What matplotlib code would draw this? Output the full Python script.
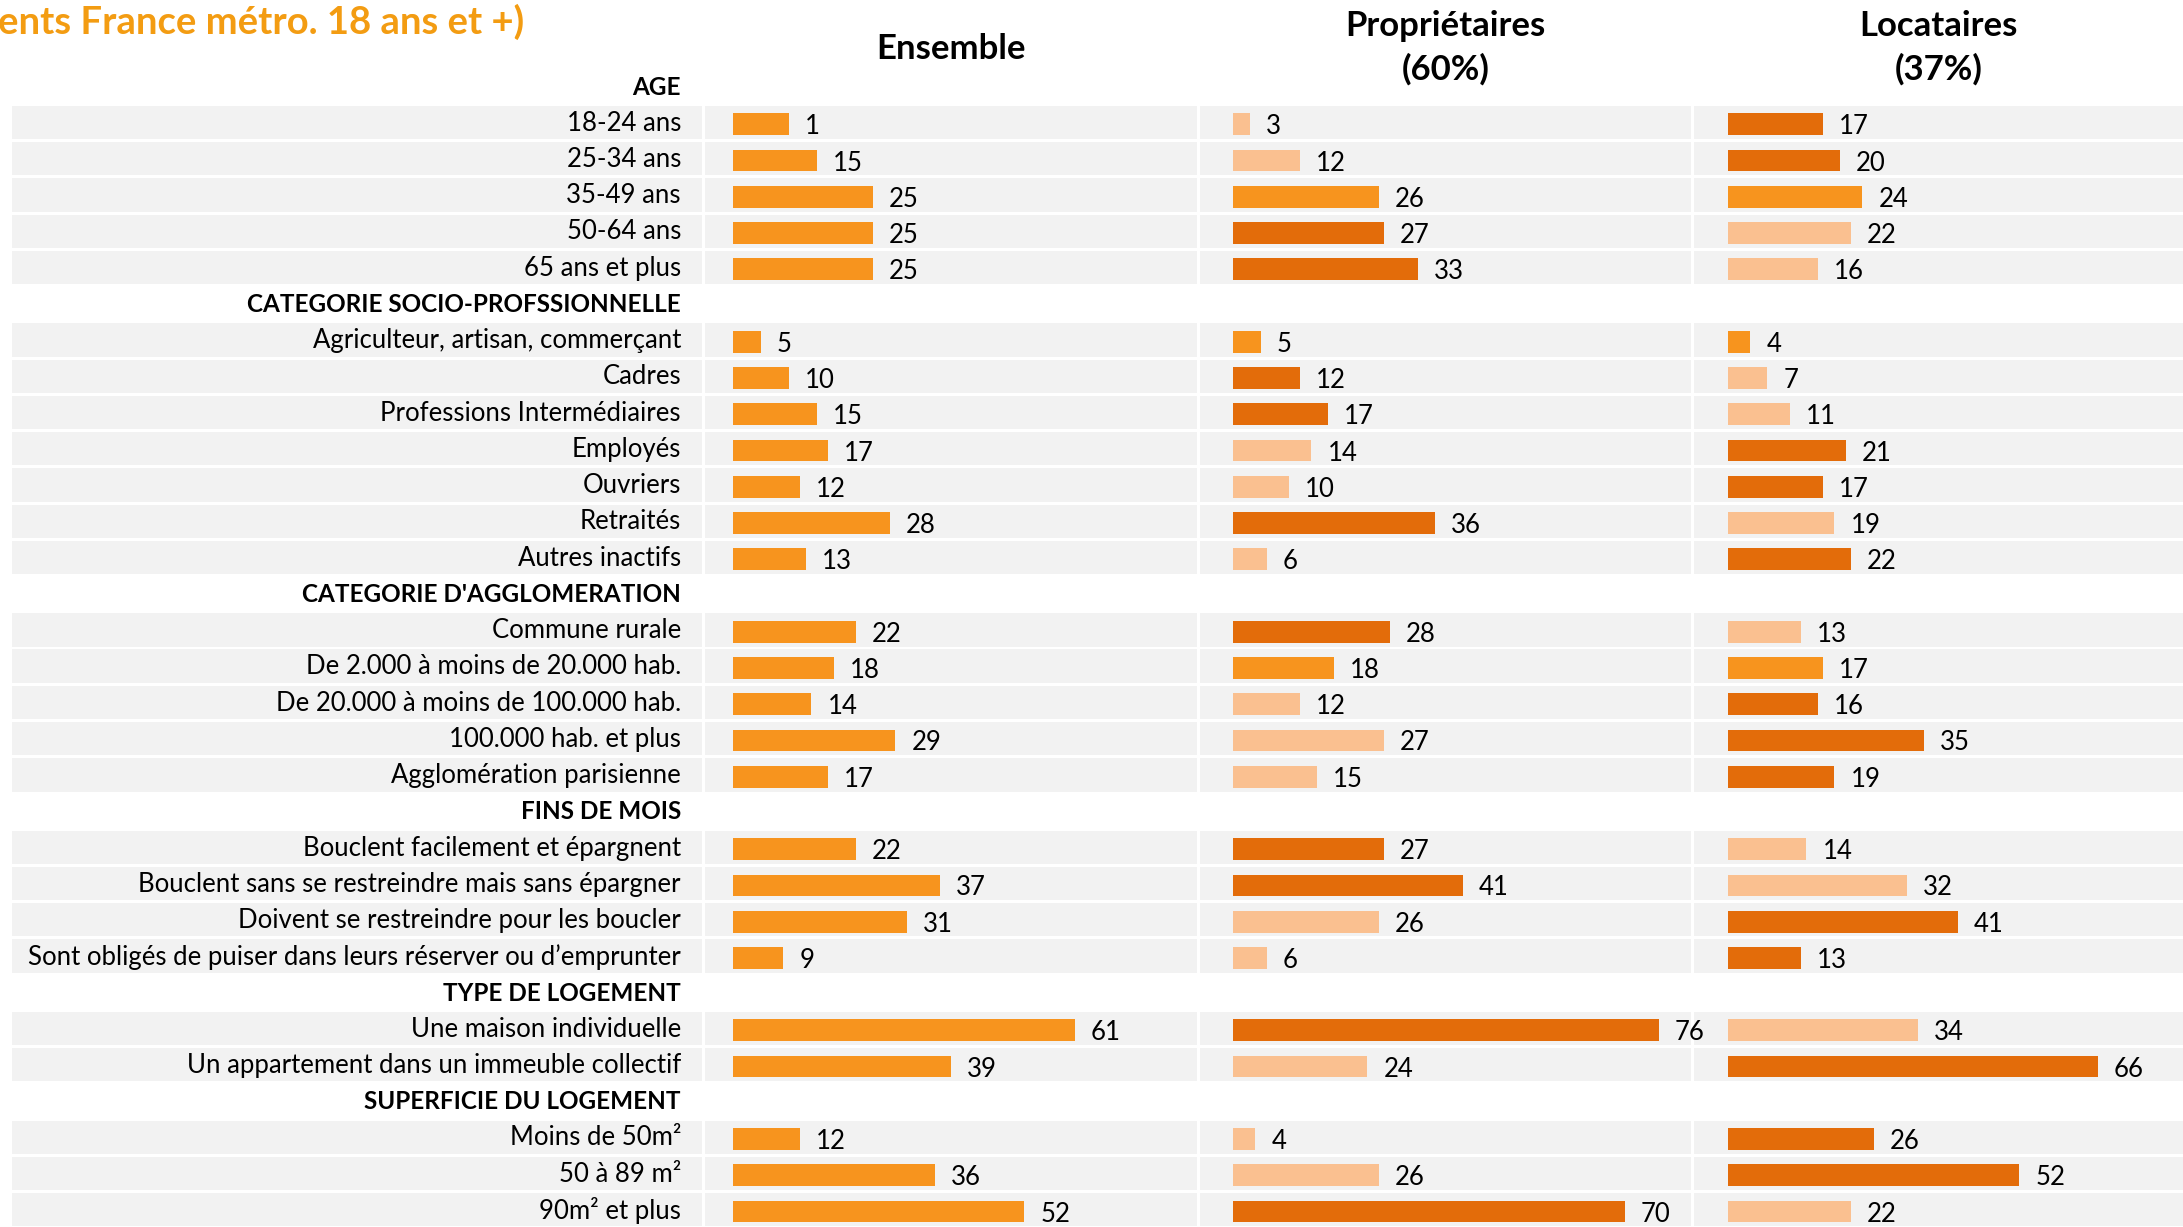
import matplotlib.pyplot as plt

plt.rcParams['font.family'] = ['Lato', 'DejaVu Sans']

# data
sections = ['AGE', 'CATEGORIE SOCIO-PROFSSIONNELLE', "CATEGORIE D'AGGLOMERATION",
            'FINS DE MOIS', 'TYPE DE LOGEMENT', 'SUPERFICIE DU LOGEMENT']
categories = [
    ['18-24 ans', '25-34 ans', '35-49 ans', '50-64 ans', '65 ans et plus'],
    ['Agriculteur, artisan, commerçant', 'Cadres', 'Professions Intermédiaires',
     'Employés', 'Ouvriers', 'Retraités', 'Autres inactifs'],
    ['Commune rurale', 'De 2.000 à moins de 20.000 hab.', 'De 20.000 à moins de 100.000 hab.',
     '100.000 hab. et plus', 'Agglomération parisienne'],
    ['Bouclent facilement et épargnent', 'Bouclent sans se restreindre mais sans épargner',
     'Doivent se restreindre pour les boucler',
     'Sont obligés de puiser dans leurs réserver ou d’emprunter'],
    ['Une maison individuelle', 'Un appartement dans un immeuble collectif'],
    ['Moins de 50m²', '50 à 89 m²', '90m² et plus'],
]
# the first bar is drawn at ~10 in the source but labelled "1"
ensemble = [[10, 15, 25, 25, 25], [5, 10, 15, 17, 12, 28, 13], [22, 18, 14, 29, 17],
            [22, 37, 31, 9], [61, 39], [12, 36, 52]]
ensemble_text = [['1', '15', '25', '25', '25'], [str(v) for v in ensemble[1]],
                 [str(v) for v in ensemble[2]], [str(v) for v in ensemble[3]],
                 [str(v) for v in ensemble[4]], [str(v) for v in ensemble[5]]]
proprio = [[3, 12, 26, 27, 33], [5, 12, 17, 14, 10, 36, 6], [28, 18, 12, 27, 15],
           [27, 41, 26, 6], [76, 24], [4, 26, 70]]
proprio_sig = [['l', 'l', 'm', 'd', 'd'], ['m', 'd', 'd', 'l', 'l', 'd', 'l'],
               ['d', 'm', 'l', 'l', 'l'], ['d', 'd', 'l', 'l'], ['d', 'l'], ['l', 'l', 'd']]
locat = [[17, 20, 24, 22, 16], [4, 7, 11, 21, 17, 19, 22], [13, 17, 16, 35, 19],
         [14, 32, 41, 13], [34, 66], [26, 52, 22]]
locat_sig = [['d', 'd', 'm', 'l', 'l'], ['m', 'l', 'l', 'd', 'd', 'l', 'd'],
             ['l', 'm', 'd', 'd', 'd'], ['l', 'l', 'd', 'd'], ['l', 'd'], ['d', 'd', 'l']]
col_titles = ['Ensemble', 'Propriétaires\n(60%)', 'Locataires\n(37%)']
title = 'ents France métro. 18 ans et +)'

colors = {'m': '#F7941E', 'd': '#E36C0A', 'l': '#FAC090'}
band = '#F2F2F2'

W, H = 2183, 1227
fig = plt.figure(figsize=(W / 100, H / 100), dpi=100)

# build slot list
rows = []  # (slot, kind, text, idx)
slot = 0
for s, cats in enumerate(categories):
    rows.append((slot, 'head', sections[s], None))
    slot += 1
    for i, c in enumerate(cats):
        rows.append((slot, 'row', c, (s, i)))
        slot += 1

pitch = 36.24
y0 = 86.3
ytop = -y0 / pitch
ybot = (H - y0) / pitch


def make_ax(x1, x2, z):
    ax = fig.add_axes([x1 / W, 0, (x2 - x1) / W, 1])
    ax.set_zorder(z)
    ax.set_ylim(ybot, ytop)
    ax.axis('off')
    for sl, kind, _, _ in rows:
        if kind == 'row':
            ax.axhspan(sl - 0.46, sl + 0.46, color=band, lw=0, zorder=0)
    return ax


# label column
axl = make_ax(12, 702, 1)
axl.set_xlim(12, 702)
for sl, kind, txt, _ in rows:
    if kind == 'head':
        axl.text(681, sl + 0.02, txt, ha='right', va='center', fontsize=17.5,
                 fontweight='bold', color='black')
    else:
        axl.text(681, sl + 0.02, txt, ha='right', va='center', fontsize=18.5,
                 color='black')

scale = 5.6  # px per unit
cols = [(705, 1197, 733, ensemble, None, ensemble_text),
        (1200, 1691, 1233, proprio, proprio_sig, None),
        (1694, 2183, 1728, locat, locat_sig, None)]
for k, (x1, x2, xs, vals, sig, texts) in enumerate(cols):
    ax = make_ax(x1, x2, 5 - k)
    left = -(xs - x1) / scale
    ax.set_xlim(left, left + (x2 - x1) / scale)
    for sl, kind, _, idx in rows:
        if kind != 'row':
            continue
        s, i = idx
        v = vals[s][i]
        c = colors['m'] if sig is None else colors[sig[s][i]]
        ax.barh(sl + 0.05, v, height=0.6, color=c, zorder=2)
        lab = texts[s][i] if texts is not None else str(v)
        ax.annotate(lab, (v, sl + 0.12), xytext=(11.5, 0), textcoords='offset points',
                    ha='left', va='center', fontsize=18.5, color='black')
    fig.text((x1 + x2) / 2 / W, 1 - (49 if k == 0 else 48) / H, col_titles[k],
             ha='center', va='center', fontsize=25, fontweight='bold',
             linespacing=1.4)

fig.text(-2 / W, 1 - 22 / H, title, ha='left', va='center', fontsize=27.5,
         fontweight='bold', color='#F39C12')

fig.savefig('out.png', dpi=100)
